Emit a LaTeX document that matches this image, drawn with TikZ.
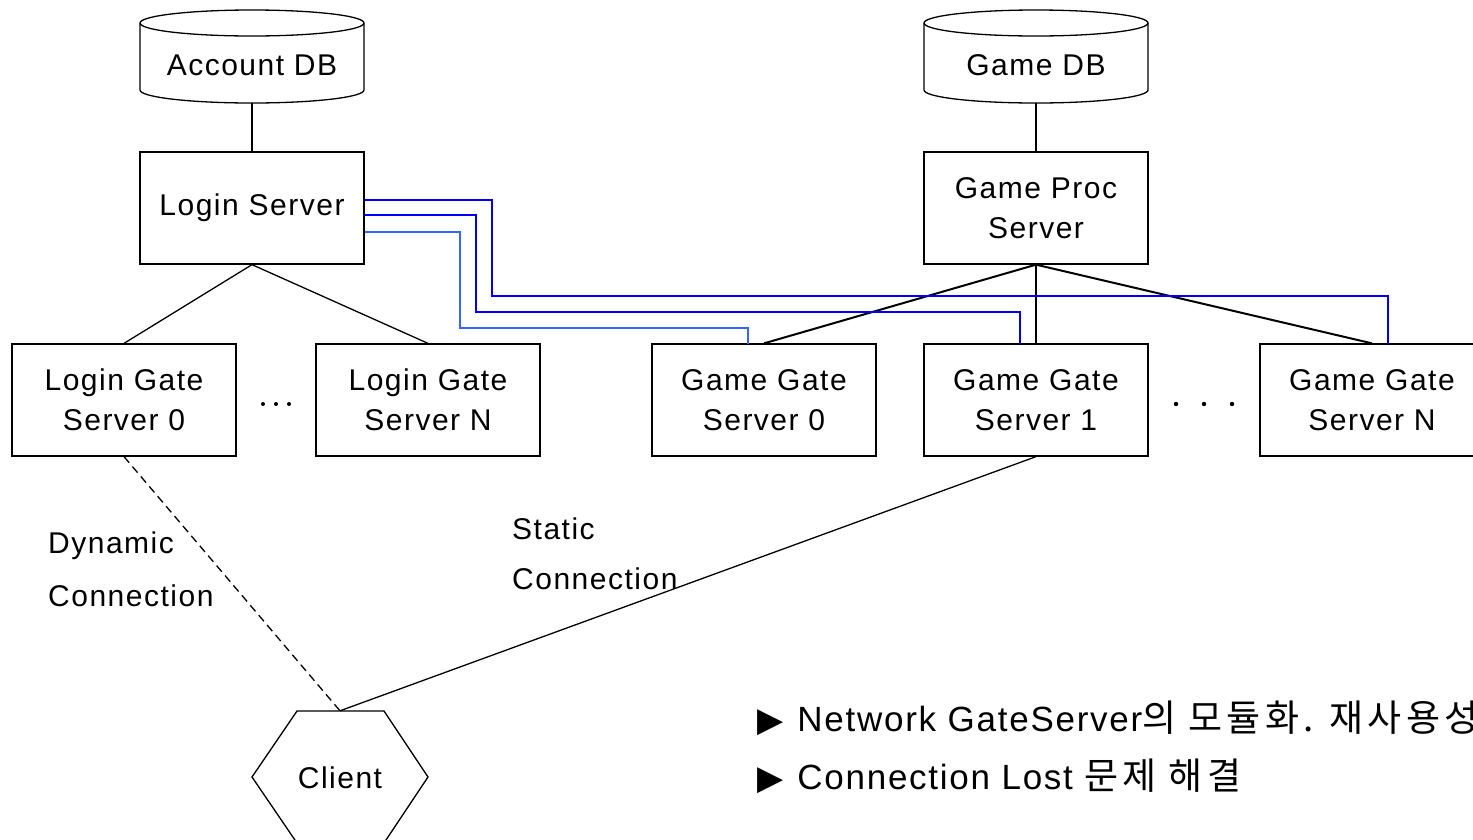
\documentclass[tikz,border=0pt]{standalone}
\usepackage{fontspec}
\setmainfont{Liberation Sans}[LetterSpace=5]
\newfontfamily\kr{Noto Sans CJK KR}[LetterSpace=11]
\newfontfamily\symfont{DejaVu Sans}
\begin{document}
\begin{tikzpicture}[x=1pt,y=-1pt,
  box/.style={draw,line width=1.3pt,minimum width=224pt,minimum height=112pt,align=center,font=\fontsize{30}{40}\selectfont,inner sep=0pt},
  lbl/.style={font=\fontsize{30}{39}\selectfont,anchor=west,inner sep=0pt},
  thin/.style={line width=1.3pt},
  thick/.style={line width=2pt},
  blueA/.style={draw=blue,line width=1.6pt},
  blueB/.style={draw={rgb,255:red,51;green,102;blue,255},line width=1.6pt},
  bullet/.style={font=\fontsize{35}{40}\selectfont,anchor=west,inner sep=0pt}]
\useasboundingbox (0,0) rectangle (1473,839);
\begin{scope}
\clip (0,0) rectangle (1473,839);
% databases
\node[minimum width=224pt,minimum height=93pt,inner sep=0pt] (adb) at (252,56.5) {};
\node[lbl,anchor=center] at (252,65) {Account DB};
\draw[thin] (140,23) -- (140,90) arc[start angle=180,end angle=360,x radius=112,y radius=-13] -- (364,23);
\draw[thin] (252,23) ellipse[x radius=112,y radius=13];
\node[minimum width=224pt,minimum height=93pt,inner sep=0pt] (gdb) at (1036,56.5) {};
\node[lbl,anchor=center] at (1036,65) {Game DB};
\draw[thin] (924,23) -- (924,90) arc[start angle=180,end angle=360,x radius=112,y radius=-13] -- (1148,23);
\draw[thin] (1036,23) ellipse[x radius=112,y radius=13];
% servers
\node[box] (ls) at (252,208) {Login Server};
\node[box] (gps) at (1036,208) {Game Proc\\Server};
\node[box] (lg0) at (124,400) {Login Gate\\Server 0};
\node[box] (lgn) at (428,400) {Login Gate\\Server N};
\node[box] (gg0) at (764,400) {Game Gate\\Server 0};
\node[box] (gg1) at (1036,400) {Game Gate\\Server 1};
\node[box] (ggn) at (1372,400) {Game Gate\\Server N};
% dots
\foreach \x in {263,276,289} \fill (\x,404) circle[radius=2];
\foreach \x in {1176,1204,1232} \fill (\x,404) circle[radius=2.2];
% client hexagon
\node[minimum width=176pt,minimum height=132pt,inner sep=0pt] (cl) at (340,777) {};
\node[lbl,anchor=center] at (340,778) {Client};
\draw[thin] (297,711) -- (384,711) -- (428,777) -- (384,843) -- (297,843) -- (252,777) -- cycle;
% connectors
\draw[thin] (adb.south) -- (ls.north);
\draw[thin] (gdb.south) -- (gps.north);
\draw[thin] (ls.south) -- (lg0.north);
\draw[thin] (ls.south) -- (lgn.north);
\draw[thick] (gps.south) -- (gg0.north);
\draw[thick] (gps.south) -- (gg1.north);
\draw[thick] (gps.south) -- (ggn.north);
\draw[blueA] (ls.east |- 0,200) -- (492,200) -- (492,296) -- (1388,296) -- (1388,344);
\draw[blueA] (ls.east |- 0,215) -- (476,215) -- (476,312) -- (1020,312) -- (1020,344);
\draw[blueB] (ls.east |- 0,232) -- (460,232) -- (460,328) -- (748,328) -- (748,344);
\draw[thin,dash pattern=on 8pt off 5pt] (lg0.south) -- (cl.north);
\draw[thin] (gg1.south) -- (cl.north);
% labels
\node[lbl] at (48,546) {Dynamic};
\node[lbl] at (48,596) {Connection};
\node[lbl] at (512,529) {Static};
\node[lbl] at (512,579) {Connection};
\node[bullet] at (757,718) {{\symfont\fontsize{34}{40}\selectfont ▶}\hspace{14pt}Network GateServer{\kr\fontsize{37}{40}\selectfont 의 모듈화. 재사용성}};
\node[bullet] at (757,776) {{\symfont\fontsize{34}{40}\selectfont ▶}\hspace{14pt}Connection Lost {\kr\fontsize{37}{40}\selectfont 문제 해결}};
\end{scope}
\end{tikzpicture}
\end{document}
